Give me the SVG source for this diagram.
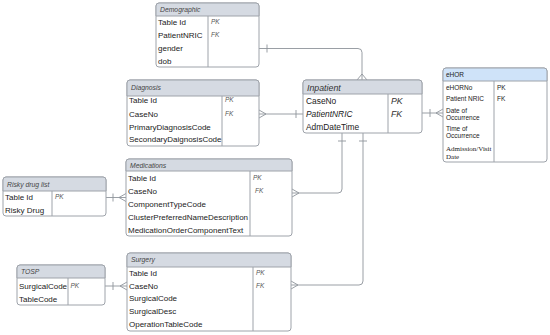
<svg xmlns="http://www.w3.org/2000/svg" width="550" height="335" viewBox="0 0 550 335">
<style>
.box{fill:#fff;stroke:#9ea3aa;stroke-width:1}
.hd{fill:#d5dae2;stroke:#9ea3aa;stroke-width:1}
.hdb{fill:#cfe3f9;stroke:#9ea3aa;stroke-width:1}
.dv{stroke:#9ea3aa;stroke-width:1}
.ht{font-family:"Liberation Sans",Arial,sans-serif;font-size:6.8px;font-style:italic;fill:#444}
.rt{font-family:"Liberation Sans",Arial,sans-serif;font-size:8px;fill:#222}
.it{font-family:"Liberation Sans",Arial,sans-serif;font-size:8.4px;fill:#222}
.kt{font-family:"Liberation Sans",Arial,sans-serif;font-size:6.5px;font-style:italic;fill:#555}
.ik{font-family:"Liberation Sans",Arial,sans-serif;font-size:8.8px;font-style:italic;fill:#333}
.et{font-family:"Liberation Sans",Arial,sans-serif;font-size:6.5px;fill:#222}
.st{font-family:"Liberation Serif","Times New Roman",serif;font-size:7px;fill:#222}
.cn{fill:none;stroke:#8f949b;stroke-width:0.9}
</style>

<g id="connectors">
  <!-- Demographic - Inpatient -->
  <path class="cn" d="M259,48.5 H358 Q362,48.5 362,52.5 V80"/>
  <path class="cn" d="M267,44.5 V52.5"/>
  <path class="cn" d="M357,80 L362,74 L367,80"/>
  <!-- Diagnosis - Inpatient -->
  <path class="cn" d="M259,114 H303"/>
  <path class="cn" d="M296,110 V118"/>
  <path class="cn" d="M259,110 L266,114 L259,118"/>
  <!-- Inpatient - eHOR -->
  <path class="cn" d="M422,113 H443"/>
  <path class="cn" d="M430,109 V117"/>
  <path class="cn" d="M443,109 L436,113 L443,117"/>
  <!-- Inpatient - Medications -->
  <path class="cn" d="M342,133 V189 Q342,193 338,193 H292"/>
  <path class="cn" d="M338,141 H346"/>
  <path class="cn" d="M292,189 L299,193 L292,197"/>
  <!-- Inpatient - Surgery -->
  <path class="cn" d="M363,133 V281 Q363,285 359,285 H291"/>
  <path class="cn" d="M359,141 H367"/>
  <path class="cn" d="M291,281 L298,285 L291,289"/>
  <!-- Risky drug list - Medications -->
  <path class="cn" d="M106,197.5 H126"/>
  <path class="cn" d="M113,193.5 V201.5"/>
  <path class="cn" d="M126,193.5 L119,197.5 L126,201.5"/>
  <!-- TOSP - Surgery -->
  <path class="cn" d="M105,286 H127"/>
  <path class="cn" d="M113,282 V290"/>
  <path class="cn" d="M127,282 L120,286 L127,290"/>
</g>

<g id="demographic">
  <rect class="box" x="156" y="3" width="103" height="64" rx="3"/>
  <path class="hd" d="M156,16 V6 Q156,3 159,3 H256 Q259,3 259,6 V16 Z"/>
  <line class="dv" x1="208" y1="16" x2="208" y2="67"/>
  <text class="ht" x="160" y="12">Demographic</text>
  <text class="rt" x="158" y="25">Table Id</text>
  <text class="kt" x="211" y="24">PK</text>
  <text class="rt" x="158" y="37.5">PatientNRIC</text>
  <text class="kt" x="211" y="37">FK</text>
  <text class="rt" x="158" y="51">gender</text>
  <text class="rt" x="158" y="63.5">dob</text>
</g>

<g id="diagnosis">
  <rect class="box" x="127" y="80" width="132" height="66" rx="3"/>
  <path class="hd" d="M127,96 V83 Q127,80 130,80 H256 Q259,80 259,83 V96 Z"/>
  <line class="dv" x1="222" y1="96" x2="222" y2="146"/>
  <text class="ht" x="131" y="90">Diagnosis</text>
  <text class="rt" x="129" y="103">Table Id</text>
  <text class="kt" x="225" y="102">PK</text>
  <text class="rt" x="129" y="116.5">CaseNo</text>
  <text class="kt" x="225" y="116">FK</text>
  <text class="rt" x="129" y="129.5">PrimaryDiagnosisCode</text>
  <text class="rt" x="129" y="142">SecondaryDaignosisCode</text>
</g>

<g id="inpatient">
  <rect class="box" x="303" y="80" width="119" height="53" rx="3"/>
  <path class="hd" d="M303,94 V83 Q303,80 306,80 H419 Q422,80 422,83 V94 Z"/>
  <line class="dv" x1="388" y1="94" x2="388" y2="133"/>
  <text class="ik" x="307" y="90.5">Inpatient</text>
  <text class="it" x="306" y="103.5">CaseNo</text>
  <text class="ik" x="391" y="103.5">PK</text>
  <text class="it" x="306" y="116.5" font-style="italic">PatientNRIC</text>
  <text class="ik" x="391" y="116.5">FK</text>
  <text class="it" x="306" y="130">AdmDateTime</text>
</g>

<g id="ehor">
  <rect class="box" x="443" y="68" width="104" height="94" rx="3"/>
  <path class="hdb" d="M443,81 V71 Q443,68 446,68 H544 Q547,68 547,71 V81 Z"/>
  <line class="dv" x1="494" y1="81" x2="494" y2="162"/>
  <text class="et" x="446" y="77">eHOR</text>
  <text class="et" x="446" y="89.5">eHORNo</text>
  <text class="et" x="497" y="89.5">PK</text>
  <text class="et" x="446" y="101">Patient NRIC</text>
  <text class="et" x="497" y="101">FK</text>
  <text class="et" x="446" y="112.5">Date of</text>
  <text class="et" x="446" y="120">Occurrence</text>
  <text class="et" x="446" y="130.5">Time of</text>
  <text class="et" x="446" y="138">Occurrence</text>
  <text class="st" x="446" y="150.5">Admission/Visit</text>
  <text class="st" x="446" y="158.5">Date</text>
</g>

<g id="risky-drug-list">
  <rect class="box" x="3" y="177" width="103" height="39" rx="3"/>
  <path class="hd" d="M3,191 V180 Q3,177 6,177 H103 Q106,177 106,180 V191 Z"/>
  <line class="dv" x1="52" y1="191" x2="52" y2="216"/>
  <text class="ht" x="7" y="186.5">Risky drug list</text>
  <text class="rt" x="5" y="199.5">Table Id</text>
  <text class="kt" x="55" y="199">PK</text>
  <text class="rt" x="5" y="212.5">Risky Drug</text>
</g>

<g id="medications">
  <rect class="box" x="126" y="159" width="166" height="77" rx="3"/>
  <path class="hd" d="M126,171 V162 Q126,159 129,159 H289 Q292,159 292,162 V171 Z"/>
  <line class="dv" x1="250" y1="171" x2="250" y2="236"/>
  <text class="ht" x="130" y="167.5">Medications</text>
  <text class="rt" x="128" y="181">Table Id</text>
  <text class="kt" x="253" y="180">PK</text>
  <text class="rt" x="128" y="194">CaseNo</text>
  <text class="kt" x="255" y="193">FK</text>
  <text class="rt" x="128" y="207">ComponentTypeCode</text>
  <text class="rt" x="128" y="220">ClusterPreferredNameDescription</text>
  <text class="rt" x="128" y="232.5">MedicationOrderComponentText</text>
</g>

<g id="tosp">
  <rect class="box" x="17" y="265" width="88" height="40" rx="3"/>
  <path class="hd" d="M17,278 V268 Q17,265 20,265 H102 Q105,265 105,268 V278 Z"/>
  <line class="dv" x1="68" y1="278" x2="68" y2="305"/>
  <text class="ht" x="21" y="274">TOSP</text>
  <text class="rt" x="19" y="289">SurgicalCode</text>
  <text class="kt" x="70.5" y="288">PK</text>
  <text class="rt" x="19" y="301.5">TableCode</text>
</g>

<g id="surgery">
  <rect class="box" x="127" y="253" width="164" height="78" rx="3"/>
  <path class="hd" d="M127,267 V256 Q127,253 130,253 H288 Q291,253 291,256 V267 Z"/>
  <line class="dv" x1="253" y1="267" x2="253" y2="331"/>
  <text class="ht" x="131" y="262">Surgery</text>
  <text class="rt" x="129" y="276">Table Id</text>
  <text class="kt" x="256" y="275">PK</text>
  <text class="rt" x="129" y="288.5">CaseNo</text>
  <text class="kt" x="256" y="287.5">FK</text>
  <text class="rt" x="129" y="301">SurgicalCode</text>
  <text class="rt" x="129" y="314">SurgicalDesc</text>
  <text class="rt" x="129" y="326.5">OperationTableCode</text>
</g>
</svg>
